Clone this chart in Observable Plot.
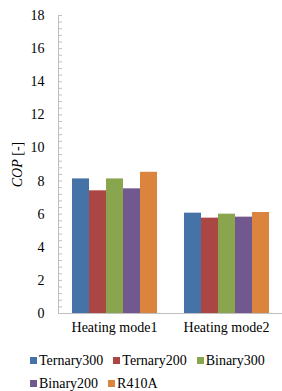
<!DOCTYPE html>
<html><head><meta charset="utf-8">
<script src="https://cdn.jsdelivr.net/npm/d3@7"></script>
<script src="https://cdn.jsdelivr.net/npm/@observablehq/plot@0.6"></script>
<style>
body{margin:0;background:#fff;overflow:hidden;}
#chart svg{display:block;}
#chart svg, #chart svg text, #chart svg tspan, #legend, #legend span{font-family:'Liberation Serif', serif !important;}
#legend{padding:9px 0 0 30px;width:282px;box-sizing:border-box;font-size:14px;line-height:23px;color:#000}
.row{display:flex;flex-wrap:nowrap;white-space:nowrap}
.item{display:flex;align-items:center;margin-right:10px}
.sw{width:7px;height:7px;margin-right:2px}
</style></head><body><div id="chart"></div><div id="legend"></div>
<script>
const modes = ["Heating mode1", "Heating mode2"];
const series = ["Ternary300", "Ternary200", "Binary300", "Binary200", "R410A"];
const mode1 = [8.13, 7.41, 8.13, 7.53, 8.53];
const mode2 = [6.06, 5.76, 6.0, 5.82, 6.1];
const colors = ["#4572A7", "#AA4643", "#89A54E", "#71588F", "#DB843D"];
const yTicks = [0, 2, 4, 6, 8, 10, 12, 14, 16, 18];
const minorTicks = d3.range(0, 18.001, 0.4);

const data = [];
series.forEach((s, i) => {
  data.push({mode: modes[0], series: s, value: mode1[i]});
  data.push({mode: modes[1], series: s, value: mode2[i]});
});

const chart = Plot.plot({
  width: 282,
  height: 340,
  marginLeft: 57,
  marginRight: 0,
  marginTop: 15,
  marginBottom: 27,
  style: "font-family: 'Liberation Serif', serif; font-size: 14px; color: #000; background: #fff;",
  fx: {domain: modes, paddingInner: 0, paddingOuter: 0, label: null},
  x: {domain: series, paddingInner: 0, paddingOuter: 0.75, axis: null},
  y: {domain: [0, 18], label: null},
  color: {domain: series, range: colors},
  marks: [
    Plot.barY(data, {fx: "mode", x: "series", y: "value", fill: "series"}),
    Plot.ruleY([0], {stroke: "#bfbfbf", strokeWidth: 1}),
    Plot.frame({anchor: "left", facetAnchor: "left", stroke: "#bfbfbf"}),
    Plot.axisY({ticks: minorTicks, tickSize: -4, stroke: "#bfbfbf", tickFormat: () => "", label: null}),
    Plot.axisY({ticks: yTicks, tickSize: 0, tickPadding: 14, label: "COP [-]", labelAnchor: "center", labelArrow: "none", labelOffset: 46, fontSize: 14}),
    Plot.axisFx({anchor: "bottom", tickSize: 0, tickPadding: 9, label: null, fontSize: 14})
  ]
});
document.getElementById("chart").appendChild(chart);

// italic "COP" in axis label
d3.select(chart).selectAll("text").each(function() {
  const t = d3.select(this);
  if (t.text() === "COP [-]") {
    t.text(null);
    t.append("tspan").attr("font-style", "italic").text("COP");
    t.append("tspan").text(" [-]");
  }
});

const legend = d3.select("#legend");
const rows = [legend.append("div").attr("class", "row"), legend.append("div").attr("class", "row")];
series.forEach((s, i) => {
  const it = rows[i < 3 ? 0 : 1].append("div").attr("class", "item");
  it.append("div").attr("class", "sw").style("background", colors[i]);
  it.append("span").text(s);
});
</script>
</body></html>
